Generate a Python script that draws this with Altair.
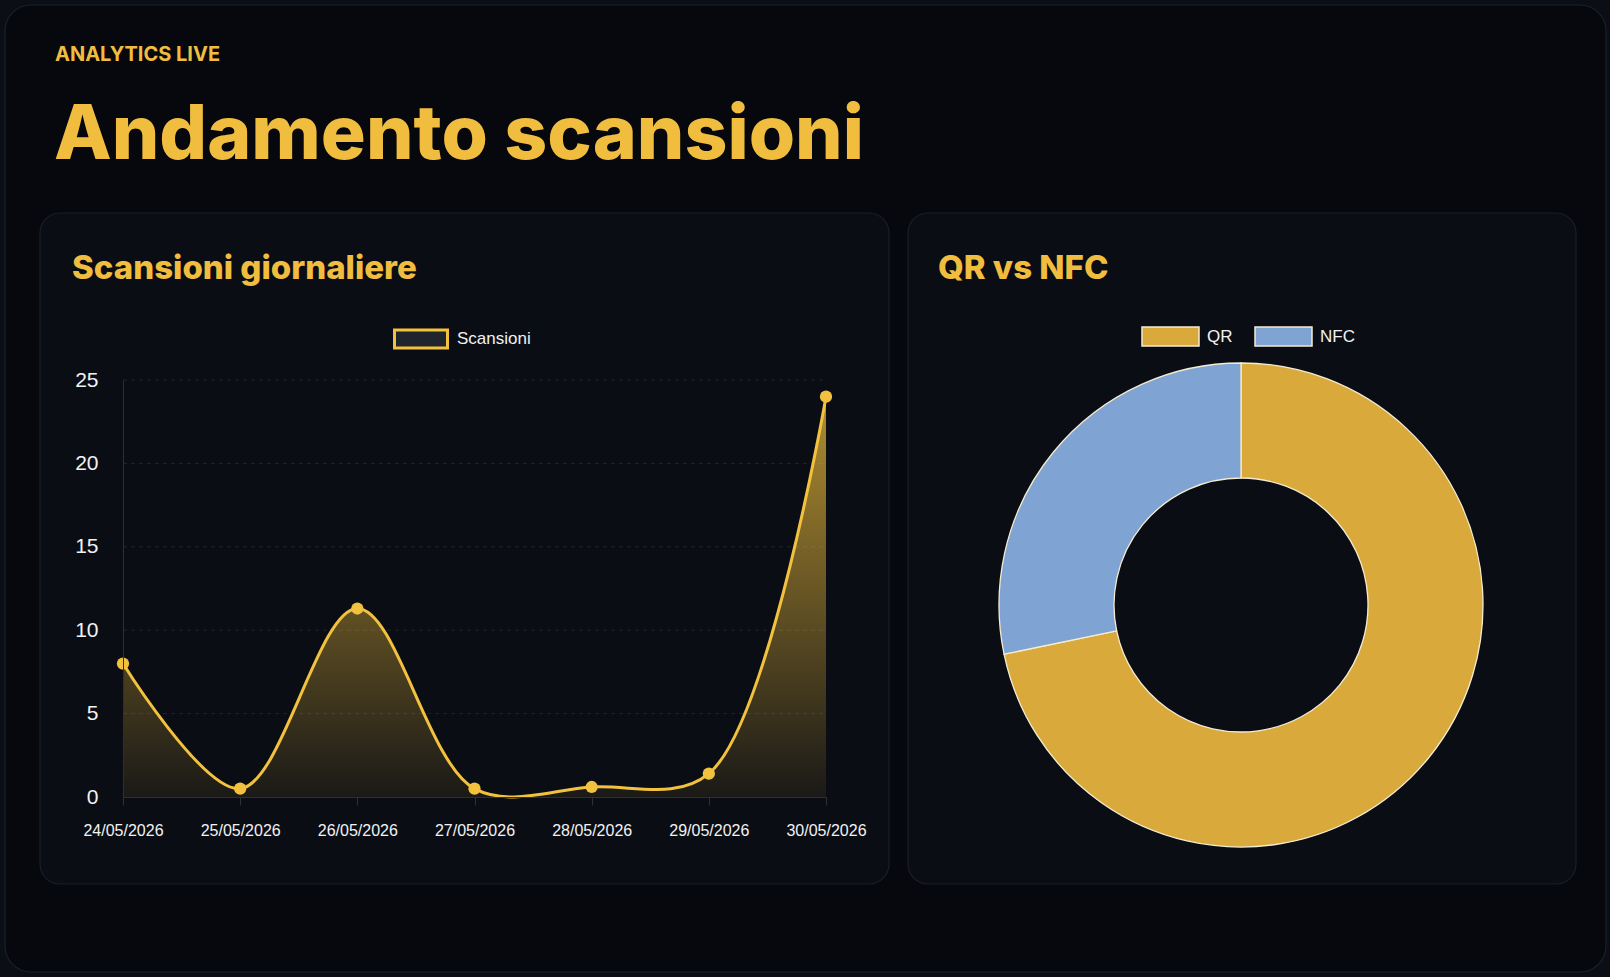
import altair as alt
import pandas as pd

# ---------------- data ----------------
dates = ["24/05/2026", "25/05/2026", "26/05/2026", "27/05/2026",
         "28/05/2026", "29/05/2026", "30/05/2026"]
scansioni = [8, 0.5, 11.3, 0.5, 0.6, 1.4, 24]
serie = ["Scansioni"]
y_ticks = [0, 5, 10, 15, 20, 25]
metodi = ["QR", "NFC"]
conteggi = [33, 13]
testi = ["ANALYTICS LIVE", "Andamento scansioni", "Scansioni giornaliere", "QR vs NFC"]

# ---------------- style ----------------
W, H = 1610, 977
GOLD = "#f2c23e"
TITLE_GOLD = "#f0bd3f"
QR_COL = "#d9aa3b"
NFC_COL = "#7fa3d2"
AXIS_COL = "#2a303a"
LABEL_COL = "#f2f2f2"
X0, X1 = 123, 826
Y0, Y1 = 797, 380
CX, CY, R_OUT, R_IN = 1241, 605, 242, 127
TITLE_FONT = "Inter"
LABEL_FONT = "Liberation Sans"

line_df = pd.DataFrame({"data": dates, "valore": scansioni, "serie": serie * len(dates)})
grid_df = pd.DataFrame({"valore": y_ticks[1:]})
donut_df = pd.DataFrame({"metodo": metodi, "n": conteggi, "ordine": list(range(len(metodi)))})
one = pd.DataFrame({"k": [0]})

# ---------------- panels ----------------
def panel(x, x2, y, y2, fill, stroke, r):
    return alt.Chart(one).mark_rect(fill=fill, stroke=stroke, strokeWidth=1.2, cornerRadius=r).encode(
        x=alt.value(x), x2=alt.value(x2), y=alt.value(y), y2=alt.value(y2))

card = panel(5, 1606, 5, 972, "#06080d", "#1b212c", 26)
left_panel = panel(40, 889, 213, 884, "#0a0d14", "#1a1f29", 20)
right_panel = panel(908, 1576, 213, 884, "#0a0d14", "#1a1f29", 20)

def label(text, x, y, size, weight, color, font=TITLE_FONT):
    return alt.Chart(pd.DataFrame({"t": [text]})).mark_text(
        align="left", baseline="alphabetic", fontSize=size, fontWeight=weight,
        font=font, color=color).encode(text="t:N", x=alt.value(x), y=alt.value(y))

kicker = label(testi[0], 55, 61, 20, 700, TITLE_GOLD)
title = label(testi[1], 54, 159, 75, 800, TITLE_GOLD)
t_left = label(testi[2], 72, 279, 33, 800, TITLE_GOLD)
t_right = label(testi[3], 938, 279, 33, 800, TITLE_GOLD)

# ---------------- line chart ----------------
x_enc = alt.X("data:O", sort=dates,
              scale=alt.Scale(type="point", domain=dates, range=[X0, X1], padding=0),
              axis=alt.Axis(title=None, orient="bottom", offset=-(H - Y0), labelAngle=0,
                            labelFont=LABEL_FONT, labelFontSize=16, labelColor=LABEL_COL,
                            labelPadding=17, tickSize=8, tickColor=AXIS_COL,
                            domainColor=AXIS_COL, grid=False, labelOverlap=False, zindex=1))
y_scale = alt.Scale(domain=[0, 25], range=[Y0, Y1], nice=False, zero=True)
y_enc = alt.Y("valore:Q", scale=y_scale,
              axis=alt.Axis(title=None, orient="left", offset=-X0, values=y_ticks,
                            labelFont=LABEL_FONT, labelFontSize=21, labelColor=LABEL_COL,
                            labelPadding=25, ticks=False, domainColor=AXIS_COL,
                            grid=False, zindex=1))

grid = alt.Chart(grid_df).mark_rule(color="#1f2530", strokeDash=[4, 4], strokeWidth=1).encode(
    y=y_enc, x=alt.value(X0), x2=alt.value(X1))

gradient = alt.Gradient(
    gradient="linear", x1=1, x2=1, y1=0, y2=1,
    stops=[alt.GradientStop(color="rgba(240,190,60,0.72)", offset=0),
           alt.GradientStop(color="rgba(240,190,60,0.40)", offset=0.5),
           alt.GradientStop(color="rgba(240,190,60,0.07)", offset=1)])

area = alt.Chart(line_df).mark_area(interpolate="catmull-rom", color=gradient).encode(
    x=x_enc, y=y_enc)

line = alt.Chart(line_df).mark_line(interpolate="catmull-rom", strokeWidth=3).encode(
    x=x_enc, y=y_enc,
    color=alt.Color("serie:N", scale=alt.Scale(domain=serie, range=[GOLD]),
                    legend=alt.Legend(title=None, orient="none", legendX=393, legendY=311,
                                      symbolType="M-1,-0.34L1,-0.34L1,0.34L-1,0.34Z",
                                      symbolSize=2809, symbolStrokeWidth=3,
                                      symbolFillColor="#20242c",
                                      labelFont=LABEL_FONT, labelFontSize=17,
                                      labelColor=LABEL_COL, labelOffset=8, padding=0)))

points = alt.Chart(line_df).mark_circle(size=150, color=GOLD, opacity=1).encode(
    x=x_enc, y=y_enc)

# ---------------- donut ----------------
donut = alt.Chart(donut_df).mark_arc(radius=R_OUT, radius2=R_IN, stroke="#f4ecd2",
                                     strokeWidth=1.3).encode(
    theta=alt.Theta("n:Q", stack=True),
    order=alt.Order("ordine:Q"),
    color=alt.Color("metodo:N", scale=alt.Scale(domain=metodi, range=[QR_COL, NFC_COL]),
                    legend=alt.Legend(title=None, orient="none", legendX=1141, legendY=307,
                                      direction="horizontal",
                                      symbolType="M-1,-0.333L1,-0.333L1,0.333L-1,0.333Z",
                                      symbolSize=3249, symbolStrokeColor="#f4ecd2",
                                      symbolStrokeWidth=1.5, symbolOpacity=1,
                                      labelFont=LABEL_FONT, labelFontSize=17,
                                      labelColor=LABEL_COL, labelOffset=7,
                                      columnPadding=19, padding=0)),
    x=alt.value(CX), y=alt.value(CY))

chart = alt.layer(
    card, left_panel, right_panel, kicker, title, t_left, t_right,
    grid, area, line, points, donut
).resolve_scale(color="independent").resolve_legend(color="independent").properties(
    width=W, height=H, background="#0b0e14", padding=0,
    autosize=alt.AutoSizeParams(type="none")
).configure_view(stroke=None)

chart.save("out.html", embed_options={"renderer": "svg", "actions": False})
